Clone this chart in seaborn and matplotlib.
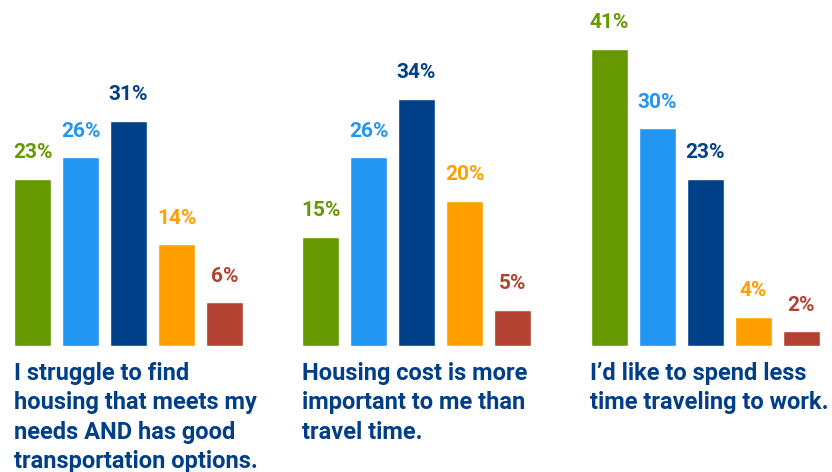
import numpy as np
import pandas as pd
import seaborn as sns
import matplotlib.pyplot as plt

# response levels (colour order left to right)
responses = ["Strongly agree", "Agree", "Neutral", "Disagree", "Strongly disagree"]
colors = ["#669900", "#2196f3", "#004088", "#ffa000", "#b34233"]

statements = [
    "I struggle to find\nhousing that meets my\nneeds AND has good\ntransportation options.",
    "Housing cost is more\nimportant to me than\ntravel time.",
    "I\u2019d like to spend less\ntime traveling to work.",
]
struggle_vals = [23, 26, 31, 14, 6]
cost_vals = [15, 26, 34, 20, 5]
travel_vals = [41, 30, 23, 4, 2]
all_vals = [struggle_vals, cost_vals, travel_vals]

sns.set_style("white")
plt.rcParams['font.family'] = ['Roboto', 'DejaVu Sans']

fig = plt.figure(figsize=(8.32, 4.72), dpi=100)
lefts = [8.5 / 832, 296.5 / 832, 585.5 / 832]
text_x = [14 / 832, 302 / 832, 590 / 832]
title_color = "#003f87"

for i, vals in enumerate(all_vals):
    ax = fig.add_axes([lefts[i], 0.267, 240 / 832, 0.727])
    df = pd.DataFrame({"response": responses, "pct": vals})
    sns.barplot(data=df, x="response", y="pct", hue="response", palette=colors,
                width=0.77, legend=False, ax=ax, saturation=1)
    ax.set_ylim(0, 47.3)
    ax.set_xlim(-0.5, 4.5)
    ax.axis("off")
    for j, v in enumerate(vals):
        ax.annotate(f"{v}%", (j, v), xytext=(0, 15), textcoords="offset points",
                    ha="center", va="baseline", fontsize=15, fontweight="bold",
                    color=colors[j])
    fig.text(text_x[i], 1 - 362 / 472, statements[i], ha="left", va="top",
             fontsize=17, fontweight="bold", color=title_color,
             linespacing=1.36)

plt.savefig("out.png", dpi=100)
